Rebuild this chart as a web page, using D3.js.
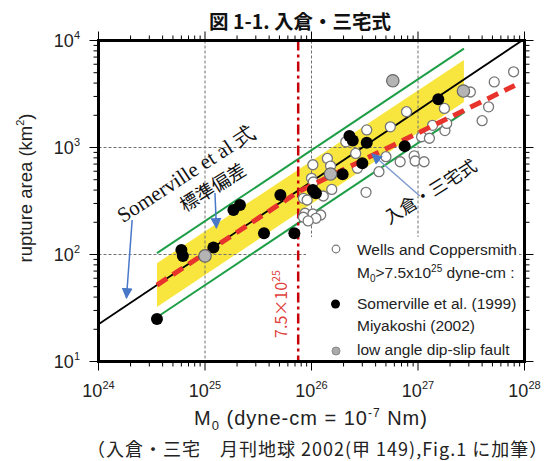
<!DOCTYPE html>
<html>
<head>
<meta charset="utf-8">
<script src="https://cdn.jsdelivr.net/npm/d3@7"></script>
<style>
body { margin: 0; background: #fff; }
svg { display: block; }
</style>
</head>
<body>
<div id="chart"></div>
<script>

// values: [M0 (dyne-cm), rupture area (km2)]
var wellsPoints = [
	[7.9e27, 5100], [5.2e27, 4100], [3.1e27, 3300], [4.6e27, 2400], [4.0e27, 1780],
	[1.77e27, 2320], [1.79e27, 1440], [1.86e27, 1680], [1.37e27, 1610], [7.8e26, 2160],
	[5.5e26, 1560], [3.3e26, 1460], [2.1e26, 1130], [2.6e26, 880], [1.41e26, 790],
	[1.51e26, 670], [1.03e26, 690], [1.0e26, 515], [1.04e26, 476], [2.7e26, 640],
	[5.0e26, 820], [4.3e26, 594], [3.25e26, 381], [1.08e27, 1260], [1.28e27, 1220],
	[9.2e26, 834], [9.4e26, 748], [1.14e27, 736], [6.8e26, 736], [1.29e26, 352],
	[1.55e26, 406], [8.7e25, 243], [1.03e26, 239], [1.22e26, 234], [8.4e25, 223],
	[1.10e26, 218], [9.3e25, 206], [8.4e25, 335], [9.1e25, 323]
];

var somervillePoints = [
	[3.54e24, 24.9], [6.0e24, 110], [6.2e24, 97], [1.20e25, 116], [1.85e25, 261],
	[2.13e25, 290], [3.58e25, 158], [5.1e25, 360], [6.9e25, 158], [1.03e26, 401],
	[1.10e26, 373], [1.96e26, 562], [2.27e26, 1280], [2.44e26, 1160], [3.3e26, 1110],
	[3.0e26, 711], [7.5e26, 1030], [1.55e27, 2820]
];

var dipSlipPoints = [[1.0e25, 97], [1.51e26, 565], [5.8e26, 4200], [2.67e27, 3370]];

// lines
var somervilleLine = [[1e24, 22.3], [1e28, 10350]];
var upperSigma = [[3.54e24, 103], [2.7e27, 8400]];
var lowerSigma = [[3.8e24, 27.2], [2.75e27, 2150]];
var sigmaBand = [[3.54e24, 83], [2.7e27, 6580], [2.7e27, 2660], [3.54e24, 32.3]];
var irikuraLine = [[3.54e24, 51.8], [7.5e25, 385], [8.1e27, 3800]];
var moLimit = 7.5e25;

var xTickExp = [24, 25, 26, 27, 28];
var yTickExp = [1, 2, 3, 4];

// annotations [from, to] in data units
var arrows = [
	[[2.07e24, 210], [1.83e24, 39.2]],
	[[1.24e25, 376], [1.28e25, 177]],
	[[1.04e27, 352], [3.7e26, 869]]
];

var svgWidth = 552;
var svgHeight = 461;
var pLeft = 98.5, pRight = 524.5, pTop = 40.5, pBottom = 361.5;

var x = d3.scaleLog().domain([1e24, 1e28]).range([pLeft, pRight]);
var y = d3.scaleLog().domain([10, 1e4]).range([pBottom, pTop]);

var svg = d3.select('#chart').append('svg')
	.attr('width', svgWidth)
	.attr('height', svgHeight);

var defs = svg.append('defs');
defs.append('clipPath').attr('id', 'plotclip').append('rect')
	.attr('x', pLeft).attr('y', pTop).attr('width', pRight - pLeft).attr('height', pBottom - pTop);
defs.append('marker')
	.attr('id', 'arrowhead')
	.attr('viewBox', '0 0 10 10')
	.attr('refX', 9).attr('refY', 5)
	.attr('markerWidth', 11).attr('markerHeight', 11)
	.attr('markerUnits', 'userSpaceOnUse')
	.attr('orient', 'auto')
	.append('path').attr('d', 'M0,0 L10,5 L0,10 z').attr('fill', '#4a78c8');

var line = d3.line().x(function(d) { return x(d[0]); }).y(function(d) { return y(d[1]); });

var plot = svg.append('g').attr('clip-path', 'url(#plotclip)');

// yellow band
plot.append('path').attr('d', line(sigmaBand) + 'Z').attr('fill', '#f8e63f');

// grid
plot.selectAll('.gx').data([1e25, 1e26, 1e27]).enter().append('line')
	.attr('x1', function(d) { return x(d); }).attr('x2', function(d) { return x(d); })
	.attr('y1', pTop).attr('y2', pBottom)
	.attr('stroke', '#707070').attr('stroke-width', 1).attr('stroke-dasharray', '3,2');
plot.selectAll('.gy').data([100, 1000]).enter().append('line')
	.attr('y1', function(d) { return y(d); }).attr('y2', function(d) { return y(d); })
	.attr('x1', pLeft).attr('x2', pRight)
	.attr('stroke', '#707070').attr('stroke-width', 1).attr('stroke-dasharray', '3,2');

// lines
plot.append('path').attr('d', line(upperSigma)).attr('stroke', '#1f9e48').attr('stroke-width', 2).attr('fill', 'none');
plot.append('path').attr('d', line(lowerSigma)).attr('stroke', '#1f9e48').attr('stroke-width', 2).attr('fill', 'none');
plot.append('path').attr('d', line(somervilleLine)).attr('stroke', '#000').attr('stroke-width', 1.8).attr('fill', 'none');

plot.append('line')
	.attr('x1', x(moLimit)).attr('x2', x(moLimit)).attr('y1', pTop).attr('y2', pBottom)
	.attr('stroke', '#c8000a').attr('stroke-width', 2.5).attr('stroke-dasharray', '10,4,3,4');

// points
plot.selectAll('.wells').data(wellsPoints).enter().append('circle')
	.attr('cx', function(d) { return x(d[0]); }).attr('cy', function(d) { return y(d[1]); })
	.attr('r', 5).attr('fill', '#fff').attr('stroke', '#777').attr('stroke-width', 1.3);

plot.append('path').attr('d', line(irikuraLine)).attr('stroke', '#e8332c').attr('stroke-width', 5)
	.attr('stroke-dasharray', '12,7').attr('fill', 'none');

plot.selectAll('.som').data(somervillePoints).enter().append('circle')
	.attr('cx', function(d) { return x(d[0]); }).attr('cy', function(d) { return y(d[1]); })
	.attr('r', 6).attr('fill', '#000');

plot.selectAll('.dip').data(dipSlipPoints).enter().append('circle')
	.attr('cx', function(d) { return x(d[0]); }).attr('cy', function(d) { return y(d[1]); })
	.attr('r', 6.2).attr('fill', '#b4b4b4').attr('stroke', '#666').attr('stroke-width', 1.2);

// legend
var lg = svg.append('g');
lg.append('rect').attr('x', 306).attr('y', 237).attr('width', 213).attr('height', 122).attr('fill', '#fff');
lg.append('circle').attr('cx', 336).attr('cy', 249).attr('r', 3.8).attr('fill', '#fff').attr('stroke', '#777').attr('stroke-width', 1.2);
lg.append('circle').attr('cx', 335.5).attr('cy', 304).attr('r', 4.5).attr('fill', '#000');
lg.append('circle').attr('cx', 336).attr('cy', 351).attr('r', 4).attr('fill', '#aaa').attr('stroke', '#888');
var lt = lg.append('g').attr('font-family', 'Liberation Sans, Arial, sans-serif').attr('font-size', 15.5).attr('fill', '#222');
lt.append('text').attr('x', 357).attr('y', 255).text('Wells and Coppersmith');
var l2 = lt.append('text').attr('x', 357).attr('y', 277.5);
l2.append('tspan').text('M');
l2.append('tspan').attr('font-size', 10).attr('dy', 4).text('0');
l2.append('tspan').attr('dy', -4).text('>7.5x10');
l2.append('tspan').attr('font-size', 10).attr('dy', -6).text('25');
l2.append('tspan').attr('dy', 6).text(' dyne-cm :');
lt.append('text').attr('x', 357).attr('y', 309).text('Somerville et al. (1999)');
lt.append('text').attr('x', 357).attr('y', 331).text('Miyakoshi (2002)');
lt.append('text').attr('x', 357).attr('y', 355).text('low angle dip-slip fault');

// arrows
svg.selectAll('.arrow').data(arrows).enter().append('line')
	.attr('x1', function(d) { return x(d[0][0]); }).attr('y1', function(d) { return y(d[0][1]); })
	.attr('x2', function(d) { return x(d[1][0]); }).attr('y2', function(d) { return y(d[1][1]); })
	.attr('stroke', function(d, i) { return i == 2 ? '#7f9bd0' : '#4a78c8'; })
	.attr('stroke-width', 1.5)
	.attr('marker-end', 'url(#arrowhead)');

// rotated annotations
function rotText(px, py, angle, txt, font, size, color) {
	return svg.append('text')
		.attr('transform', 'translate(' + px + ',' + py + ') rotate(' + angle + ')')
		.attr('text-anchor', 'middle')
		.attr('font-family', font).attr('font-size', size).attr('fill', color)
		.text(txt);
}
rotText(x(7.2e24), y(497), -33, 'Somerville et al 式', 'Liberation Serif, serif', 21, '#111');
rotText(x(1.28e25), y(376), -32, '標準偏差', 'Noto Sans CJK JP', 18.5, '#111');
rotText(x(1.41e27), y(345), -32, '入倉・三宅式', 'Noto Sans CJK JP', 17.5, '#111');

var vt = svg.append('text')
	.attr('transform', 'translate(' + (x(moLimit) - 11) + ',' + y(34.4) + ') rotate(-90)')
	.attr('text-anchor', 'middle')
	.attr('font-family', 'Noto Sans CJK JP').attr('font-size', 16).attr('fill', '#e0403a');
vt.append('tspan').text('7.5×10');
vt.append('tspan').attr('font-size', 10.5).attr('dy', -7).text('25');

// frame and ticks
var ax = svg.append('g').attr('stroke', '#000');
function isMajor(t) { var l = Math.log10(t); return Math.abs(l - Math.round(l)) < 1e-6; }
x.ticks().forEach(function(t) {
	var len = isMajor(t) ? 9 : 5;
	ax.append('line').attr('x1', x(t)).attr('x2', x(t)).attr('y1', pBottom).attr('y2', pBottom + len).attr('stroke-width', 1);
	ax.append('line').attr('x1', x(t)).attr('x2', x(t)).attr('y1', pTop).attr('y2', pTop - len).attr('stroke-width', 1);
});
y.ticks().forEach(function(t) {
	var len = isMajor(t) ? 9 : 5;
	ax.append('line').attr('y1', y(t)).attr('y2', y(t)).attr('x1', pLeft).attr('x2', pLeft - len).attr('stroke-width', 1);
	ax.append('line').attr('y1', y(t)).attr('y2', y(t)).attr('x1', pRight).attr('x2', pRight + len).attr('stroke-width', 1);
});
svg.append('rect').attr('x', pLeft).attr('y', pTop).attr('width', pRight - pLeft).attr('height', pBottom - pTop)
	.attr('fill', 'none').attr('stroke', '#000').attr('stroke-width', 3);

var labels = svg.append('g').attr('font-family', 'Liberation Sans, Arial, sans-serif').attr('fill', '#222');
xTickExp.forEach(function(e) {
	var t = labels.append('text').attr('x', x(Math.pow(10, e))).attr('y', 397).attr('text-anchor', 'middle').attr('font-size', 18);
	t.append('tspan').text('10');
	t.append('tspan').attr('font-size', 11).attr('dy', -8).text(e);
});
yTickExp.forEach(function(e) {
	var t = labels.append('text').attr('x', 80).attr('y', y(Math.pow(10, e)) + 6.5).attr('text-anchor', 'end').attr('font-size', 18);
	t.append('tspan').text('10');
	t.append('tspan').attr('font-size', 11).attr('dy', -8).text(e);
});

// axis titles
var xt = labels.append('text').attr('x', 311).attr('y', 425).attr('text-anchor', 'middle')
	.attr('font-size', 20).attr('letter-spacing', 1);
xt.append('tspan').text('M');
xt.append('tspan').attr('font-size', 13).attr('dy', 5).text('0');
xt.append('tspan').attr('dy', -5).text(' (dyne-cm = 10');
xt.append('tspan').attr('font-size', 12).attr('dy', -8).text('-7');
xt.append('tspan').attr('dy', 8).text(' Nm)');

var yt = labels.append('text').attr('transform', 'translate(32,188) rotate(-90)').attr('text-anchor', 'middle').attr('font-size', 18.5);
yt.append('tspan').text('rupture area (km');
yt.append('tspan').attr('font-size', 11).attr('dy', -8).text('2');
yt.append('tspan').attr('dy', 8).text(')');

svg.append('text').attr('x', 300).attr('y', 29).attr('text-anchor', 'middle')
	.attr('font-family', 'Noto Sans CJK JP').attr('font-weight', 'bold').attr('font-size', 19.5).attr('fill', '#111')
	.text('図 1-1. 入倉・三宅式');

svg.append('text').attr('x', 87).attr('y', 456)
	.attr('font-family', 'Noto Sans CJK JP').attr('font-size', 18).attr('fill', '#222')
	.attr('letter-spacing', 1)
	.text('（入倉・三宅　月刊地球 2002(甲 149),Fig.1 に加筆）');

</script>
</body>
</html>
